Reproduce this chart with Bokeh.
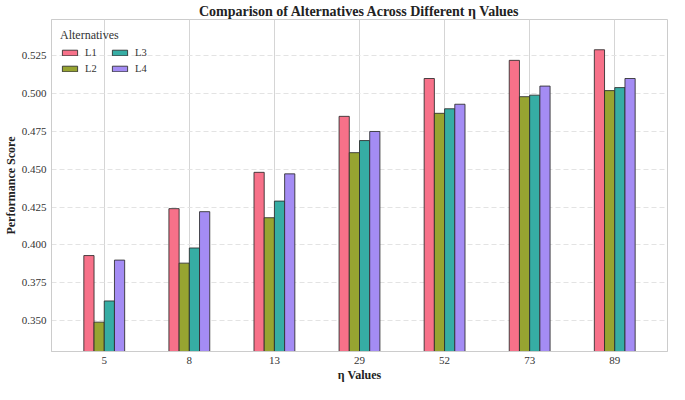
from bokeh.plotting import figure
from bokeh.models import ColumnDataSource, FactorRange, Range1d, Legend, LegendItem, FixedTicker, NumeralTickFormatter
from bokeh.transform import dodge
from bokeh.embed import file_html
from bokeh.resources import INLINE

eta_labels = ["5", "8", "13", "29", "52", "73", "89"]
L1 = [0.393, 0.424, 0.448, 0.485, 0.510, 0.522, 0.529]
L2 = [0.349, 0.388, 0.418, 0.461, 0.487, 0.498, 0.502]
L3 = [0.363, 0.398, 0.429, 0.469, 0.490, 0.499, 0.504]
L4 = [0.390, 0.422, 0.447, 0.475, 0.493, 0.505, 0.510]
series_names = ["L1", "L2", "L3", "L4"]
colors = ["#f77189", "#97a431", "#36ada4", "#a48cf4"]
y_ticks = [0.350, 0.375, 0.400, 0.425, 0.450, 0.475, 0.500, 0.525]

FONT = "Liberation Serif"

src = ColumnDataSource(dict(eta=eta_labels, L1=L1, L2=L2, L3=L3, L4=L4))

p = figure(
    x_range=FactorRange(*eta_labels, range_padding=0.12, range_padding_units="absolute"),
    y_range=Range1d(0.3296, 0.549),
    width=669, height=384,
    output_backend="svg", toolbar_location=None,
    title="Comparison of Alternatives Across Different η Values",
    min_border_left=0, min_border_right=2, min_border_top=0, min_border_bottom=0,
)

p.title.align = "center"
p.title.text_font = FONT
p.title.text_font_size = "14px"
p.title.text_font_style = "bold"
p.title.text_color = "#222222"
p.title.offset = 0
p.title.standoff = 2

offsets = [-0.18, -0.06, 0.06, 0.18]
renderers = []
for name, col, off in zip(series_names, colors, offsets):
    r = p.vbar(x=dodge("eta", off, range=p.x_range), top=name, bottom=0, width=0.12,
               fill_color=col, line_color="#2b2b2b", line_width=1, line_alpha=0.85,
               source=src)
    renderers.append(r)

p.yaxis.ticker = FixedTicker(ticks=y_ticks)
p.yaxis.formatter = NumeralTickFormatter(format="0.000")

for ax in (p.xaxis, p.yaxis):
    ax.axis_line_color = "#cccccc"
    ax.major_tick_line_color = None
    ax.minor_tick_line_color = None
    ax.major_tick_out = 0
    ax.major_tick_in = 0
    ax.minor_tick_out = 0
    ax.major_label_text_font = FONT
    ax.major_label_text_font_size = "11px"
    ax.major_label_text_color = "#333333"
    ax.axis_label_text_font = FONT
    ax.axis_label_text_font_size = "12px"
    ax.axis_label_text_font_style = "bold"
    ax.axis_label_text_color = "#222222"

p.xaxis.axis_label = "η Values"
p.yaxis.axis_label = "Performance Score"
p.xaxis.major_label_standoff = 5
p.xaxis.axis_label_standoff = 1
p.yaxis.major_label_standoff = 5
p.yaxis.axis_label_standoff = 1

p.outline_line_color = "#cccccc"
p.outline_line_width = 1

p.xgrid.grid_line_color = "#d5d5d5"
p.xgrid.grid_line_width = 1
p.ygrid.grid_line_color = "#e3e3e3"
p.ygrid.grid_line_dash = "5 3"
p.ygrid.grid_line_width = 1

legend = Legend(
    items=[LegendItem(label=n, renderers=[r]) for n, r in zip(series_names, renderers)],
    ncols=2,
    location="top_left",
    title="Alternatives",
    title_text_font=FONT, title_text_font_size="12px", title_text_font_style="normal",
    title_text_color="#333333",
    title_standoff=4,
    label_text_font=FONT, label_text_font_size="10.5px", label_text_color="#333333",
    glyph_width=19, glyph_height=7, label_height=8, label_standoff=6,
    spacing=5, padding=4, margin=5,
    background_fill_alpha=0, border_line_alpha=0,
)
p.add_layout(legend)

open("out.html", "w").write(file_html(p, INLINE))
